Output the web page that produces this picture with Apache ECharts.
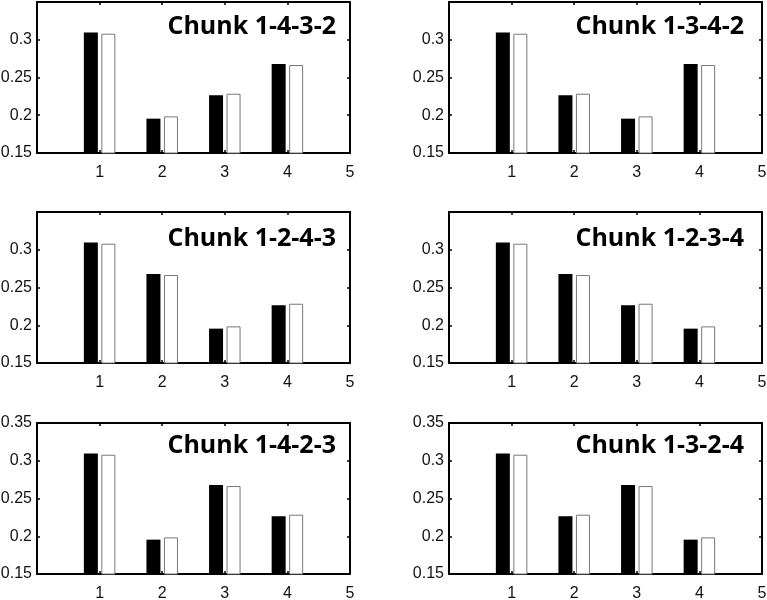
<!DOCTYPE html>
<html>
<head>
<meta charset="utf-8">
<script src="https://cdn.jsdelivr.net/npm/echarts@6/dist/echarts.min.js"></script>
<style>
  html, body { margin: 0; padding: 0; background: #fff; }
  #main { width: 767px; height: 600px; }
</style>
</head>
<body>
<div id="main"></div>
<script>
  // x positions 0..5, bars only at 1..4
  const categories = ['0', '1', '2', '3', '4', '5'];
  const yTicks = [0.15, 0.2, 0.25, 0.3, 0.35];
  const titles = ['Chunk 1-4-3-2', 'Chunk 1-3-4-2', 'Chunk 1-2-4-3', 'Chunk 1-2-3-4', 'Chunk 1-4-2-3', 'Chunk 1-3-2-4'];

  const black1432 = ['-', 0.3095, 0.1955, 0.2265, 0.268, '-'];
  const white1432 = ['-', 0.308, 0.1985, 0.2285, 0.2665, '-'];
  const black1342 = ['-', 0.3095, 0.2265, 0.1955, 0.268, '-'];
  const white1342 = ['-', 0.308, 0.2285, 0.1985, 0.2665, '-'];
  const black1243 = ['-', 0.3095, 0.268, 0.1955, 0.2265, '-'];
  const white1243 = ['-', 0.308, 0.2665, 0.1985, 0.2285, '-'];
  const black1234 = ['-', 0.3095, 0.268, 0.2265, 0.1955, '-'];
  const white1234 = ['-', 0.308, 0.2665, 0.2285, 0.1985, '-'];
  const black1423 = ['-', 0.3095, 0.1955, 0.268, 0.2265, '-'];
  const white1423 = ['-', 0.308, 0.1985, 0.2665, 0.2285, '-'];
  const black1324 = ['-', 0.3095, 0.2265, 0.268, 0.1955, '-'];
  const white1324 = ['-', 0.308, 0.2285, 0.2665, 0.1985, '-'];

  const blackSets = [black1432, black1342, black1243, black1234, black1423, black1324];
  const whiteSets = [white1432, white1342, white1243, white1234, white1423, white1324];

  const colLeft = [37, 449];
  const rowTop = [2, 212, 423];
  const titleTop = [9, 221, 428];
  const titleRight = [426, 18];

  let grid = [], xAxis = [], yAxis = [], series = [], title = [];
  for (let i = 0; i < 6; i++) {
    let r = Math.floor(i / 2), c = i % 2;
    grid.push({ left: colLeft[c], top: rowTop[r], width: 313, height: 151, outerBoundsMode: 'none', containLabel: false });
    title.push({
      text: titles[i],
      right: titleRight[c],
      top: titleTop[r],
      textStyle: { fontFamily: 'Open Sans', fontWeight: 'bold', fontSize: 25, color: '#000' }
    });
    let lineStyle = { color: '#000', width: 2 };
    let tick = { show: true, inside: true, length: 3, lineStyle: { color: '#000', width: 1.5 } };
    // bottom and top x axes
    xAxis.push({
      type: 'category', gridIndex: i, data: categories, boundaryGap: false,
      axisLine: { lineStyle: lineStyle }, axisTick: tick,
      axisLabel: {
        margin: 12, fontSize: 16, fontFamily: 'Liberation Sans', color: '#111',
        formatter: function (v) { return v === '0' ? '' : v; }
      },
      splitLine: { show: false }
    });
    xAxis.push({
      type: 'category', gridIndex: i, data: categories, boundaryGap: false, position: 'top',
      axisLine: { lineStyle: lineStyle }, axisTick: tick, axisLabel: { show: false }
    });
    // left and right y axes
    yAxis.push({
      type: 'value', gridIndex: i, min: yTicks[0], max: yTicks[yTicks.length - 1], interval: 0.05,
      axisLine: { show: true, lineStyle: lineStyle }, axisTick: tick,
      axisLabel: {
        margin: 5, fontSize: 16, fontFamily: 'Liberation Sans', color: '#111',
        showMaxLabel: r === 2,
        formatter: function (v) { return String(Math.round(v * 100) / 100); }
      },
      splitLine: { show: false }
    });
    yAxis.push({
      type: 'value', gridIndex: i, position: 'right', min: yTicks[0], max: yTicks[yTicks.length - 1], interval: 0.05,
      axisLine: { show: true, lineStyle: lineStyle }, axisTick: tick,
      axisLabel: { show: false }, splitLine: { show: false }
    });
    series.push({
      type: 'bar', xAxisIndex: i * 2, yAxisIndex: i * 2, data: blackSets[i],
      barWidth: 14, barGap: '25%',
      itemStyle: { color: '#000' }
    });
    series.push({
      type: 'bar', xAxisIndex: i * 2, yAxisIndex: i * 2, data: whiteSets[i],
      barWidth: 14, barGap: '25%',
      itemStyle: { color: '#fff', borderColor: '#777', borderWidth: 1 }
    });
  }

  let chart = echarts.init(document.getElementById('main'));
  chart.setOption({
    animation: false,
    backgroundColor: '#fff',
    title: title,
    grid: grid,
    xAxis: xAxis,
    yAxis: yAxis,
    series: series
  });
</script>
</body>
</html>
